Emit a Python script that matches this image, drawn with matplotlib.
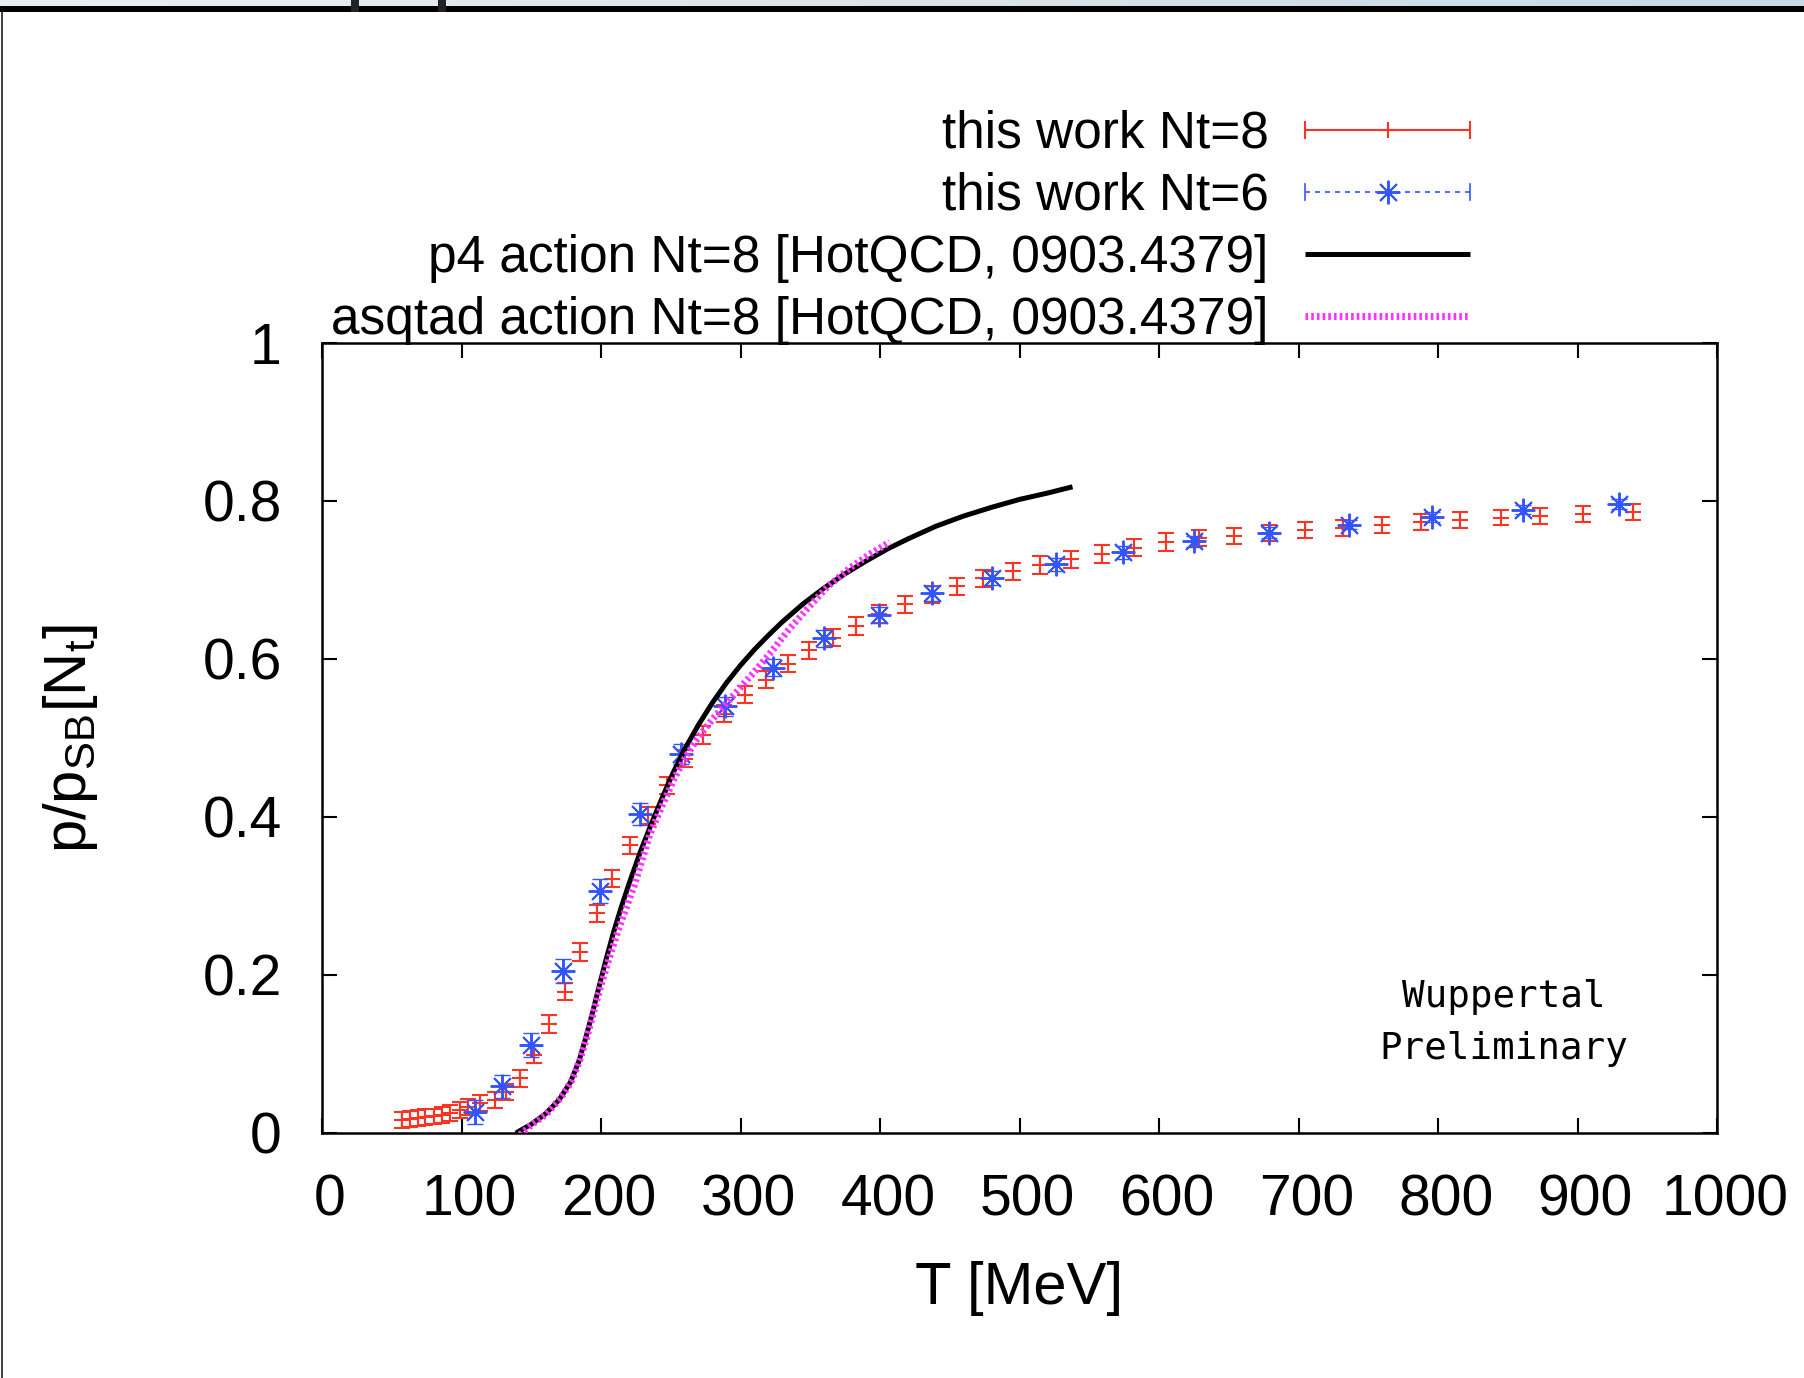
import matplotlib
matplotlib.use('Agg')
import matplotlib.pyplot as plt
import matplotlib.transforms as mtransforms
from matplotlib.lines import Line2D
from matplotlib.patches import Rectangle
from matplotlib.legend_handler import HandlerBase
from matplotlib.colors import LinearSegmentedColormap
import numpy as np

# ---------------- data ----------------
T_nt8 = [57, 63, 69, 74, 80, 86, 92, 99, 105, 113, 124, 132, 142, 152, 163, 174,
         185, 197, 208, 221, 234, 247, 260, 273, 288, 303, 318, 334, 349, 366,
         383, 399, 418, 437, 455, 474, 495, 515, 537, 559, 582, 605, 629, 654,
         679, 705, 732, 760, 788, 816, 845, 873, 904, 940]
p_nt8 = [0.016, 0.018, 0.019, 0.020, 0.021, 0.023, 0.025, 0.029, 0.033, 0.038,
         0.042, 0.052, 0.069, 0.099, 0.138, 0.179, 0.229, 0.278, 0.322, 0.364,
         0.402, 0.440, 0.474, 0.504, 0.531, 0.555, 0.574, 0.594, 0.611, 0.627,
         0.642, 0.657, 0.669, 0.682, 0.692, 0.702, 0.711, 0.719, 0.726, 0.733,
         0.741, 0.748, 0.753, 0.756, 0.760, 0.763, 0.766, 0.770, 0.773, 0.776,
         0.779, 0.781, 0.784, 0.786]
e_nt8 = [0.010] * 12 + [0.011] * 30 + [0.010] * 12

T_nt6 = [110, 129, 150, 173, 199, 228, 257, 289, 323, 360, 399, 437, 480, 526,
         574, 625, 679, 736, 796, 861, 930]
p_nt6 = [0.027, 0.059, 0.111, 0.205, 0.306, 0.404, 0.480, 0.540, 0.589, 0.626,
         0.656, 0.683, 0.703, 0.720, 0.735, 0.749, 0.760, 0.770, 0.780, 0.789,
         0.796]
e_nt6 = [0.015, 0.015, 0.015, 0.015, 0.015, 0.014, 0.013, 0.012, 0.011, 0.011,
         0.010, 0.010, 0.009, 0.008, 0.008, 0.007, 0.007, 0.006, 0.006, 0.006,
         0.006]

T_p4 = [139, 150, 160, 170, 178, 184, 189, 194, 199, 204, 209, 214, 220, 228,
        236, 244, 252, 260, 270, 280, 290, 300, 310, 320, 330, 345, 360, 375,
        390, 405, 420, 440, 460, 480, 500, 520, 538]
p_p4 = [0.000, 0.011, 0.024, 0.042, 0.064, 0.090, 0.120, 0.153, 0.188, 0.222,
        0.254, 0.283, 0.315, 0.355, 0.391, 0.425, 0.457, 0.486, 0.517, 0.545,
        0.570, 0.592, 0.612, 0.630, 0.647, 0.670, 0.690, 0.708, 0.724, 0.739,
        0.752, 0.768, 0.781, 0.792, 0.802, 0.810, 0.818]

T_asq = [142, 150, 161, 171, 179, 185, 190, 195, 200, 206, 212, 218, 224, 235,
         244, 252, 260, 269, 280, 290, 300, 312, 322, 335, 348, 362, 379, 393,
         407]
p_asq = [-0.002, 0.010, 0.024, 0.044, 0.066, 0.093, 0.122, 0.155, 0.187, 0.222,
         0.255, 0.285, 0.314, 0.378, 0.415, 0.447, 0.474, 0.499, 0.524, 0.544,
         0.564, 0.588, 0.609, 0.638, 0.664, 0.691, 0.716, 0.733, 0.748]

x_ticks = [0, 100, 200, 300, 400, 500, 600, 700, 800, 900, 1000]
y_ticks = [0, 0.2, 0.4, 0.6, 0.8, 1.0]
y_tick_labels = ['0', '0.2', '0.4', '0.6', '0.8', '1']

labels = ['this work Nt=8', 'this work Nt=6',
          'p4 action Nt=8 [HotQCD, 0903.4379]',
          'asqtad action Nt=8 [HotQCD, 0903.4379]']

RED = '#ff3322'
BLUE = '#3355ff'
MAGENTA = '#ff33ff'
ASTER = (8, 2, 0)

plt.rcParams['font.family'] = ['Liberation Sans', 'DejaVu Sans']
plt.rcParams['mathtext.fontset'] = 'custom'
plt.rcParams['mathtext.rm'] = 'Liberation Sans'

W, H = 1804, 1378
fig = plt.figure(figsize=(W / 100, H / 100), dpi=100)
fig.patch.set_facecolor('white')

# screenshot decorations
gax = fig.add_axes([0, 1 - 6 / H, 1, 6 / H])
grad = np.linspace(0, 1, 256)[None, :]
cm = LinearSegmentedColormap.from_list('g', ['#e9eef3', '#c9d9e4'])
gax.imshow(grad, aspect='auto', cmap=cm, extent=[0, 1, 0, 1])
gax.set_axis_off()
fig.add_artist(Rectangle((0, 1 - 12 / H), 1, 6 / H, transform=fig.transFigure,
                         facecolor='black', edgecolor='none'))
for xm in (351, 438):
    fig.add_artist(Rectangle((xm / W, 1 - 12 / H), 8 / W, 12 / H,
                             transform=fig.transFigure, facecolor='#222222',
                             edgecolor='none'))
fig.add_artist(Rectangle((1 / W, 0), 2 / W, 1 - 12 / H, transform=fig.transFigure,
                         facecolor='#444444', edgecolor='none'))

ax = fig.add_axes([322 / W, 1 - 1133 / H, 1395 / W, 790 / H])

eb8 = ax.errorbar(T_nt8, p_nt8, yerr=e_nt8, fmt='+', color=RED, ms=12, mew=1.5,
                  elinewidth=1.5, capsize=6, capthick=1.5, zorder=3)
eb6 = ax.errorbar(T_nt6, p_nt6, yerr=e_nt6, fmt='none', ecolor=BLUE,
                  elinewidth=1.0, capsize=6, capthick=1.0, zorder=4)
ax.plot(T_nt6, p_nt6, ls='none', marker=ASTER, ms=17, mew=1.4, color=BLUE,
        zorder=4)
lp4, = ax.plot(T_p4, p_p4, color='black', lw=3.6, zorder=5,
               solid_capstyle='butt', solid_joinstyle='round')
lasq, = ax.plot(T_asq, p_asq, color=MAGENTA, lw=5, zorder=6,
                dashes=(0.38, 0.44), dash_capstyle='butt')

ax.set_xlim(0, 1000)
ax.set_ylim(0, 1)
ax.set_xticks(x_ticks)
ax.set_xticklabels([str(v) for v in x_ticks])
ax.set_yticks(y_ticks)
ax.set_yticklabels(y_tick_labels)
ax.tick_params(direction='in', length=11, width=1.5, top=True, right=True,
               labelsize=41, pad=29)
for sp in ax.spines.values():
    sp.set_linewidth(1.8)
off = mtransforms.ScaledTranslation(8 / 100, 0, fig.dpi_scale_trans)
for lab in ax.get_xticklabels():
    lab.set_transform(lab.get_transform() + off)

ax.set_xlabel('T [MeV]', fontsize=43)
ax.xaxis.label.set_va('center')
ax.xaxis.set_label_coords(0.5, -0.197)
ax.set_ylabel(r'p/p$_\mathregular{SB}$[N$_\mathregular{t}$]', fontsize=43)
ax.yaxis.label.set_va('center')
ax.yaxis.set_label_coords(-0.18, 0.5)

ax.text(0.847, 0.1396, 'Wuppertal\nPreliminary', transform=ax.transAxes,
        ha='center', va='center', multialignment='center',
        family='DejaVu Sans Mono', fontsize=27, linespacing=1.57)


class GnuHandler(HandlerBase):
    def __init__(self, color, lw, ls=None, dashes=None, marker=None, ms=0,
                 mew=1.5, ticks=False, tick_lw=1.5):
        super().__init__()
        self.color, self.lw, self.ls, self.dashes = color, lw, ls, dashes
        self.marker, self.ms, self.mew = marker, ms, mew
        self.ticks, self.tick_lw = ticks, tick_lw

    def create_artists(self, legend, orig_handle, xdescent, ydescent, width,
                       height, fontsize, trans):
        x0, x1 = -xdescent, width - xdescent
        y = (height - ydescent) / 2
        arts = []
        kw = dict(color=self.color, lw=self.lw, transform=trans)
        if self.dashes is not None:
            ln = Line2D([x0, x1], [y, y], dashes=self.dashes,
                        dash_capstyle='butt', **kw)
        else:
            ln = Line2D([x0, x1], [y, y], ls=self.ls or '-',
                        solid_capstyle='butt', **kw)
        arts.append(ln)
        if self.ticks:
            for xx in (x0, x1):
                arts.append(Line2D([xx, xx], [y - 6, y + 6], color=self.color,
                                   lw=self.tick_lw, transform=trans))
        if self.marker is not None:
            arts.append(Line2D([(x0 + x1) / 2], [y], ls='none',
                               marker=self.marker, ms=self.ms, mew=self.mew,
                               color=self.color, transform=trans))
        return arts


hmap = {
    eb8: GnuHandler(RED, 1.5, marker='+', ms=12, ticks=True),
    eb6: GnuHandler(BLUE, 1.2, dashes=(3, 3), marker=ASTER, ms=17, mew=1.4,
                    ticks=True, tick_lw=1.2),
    lp4: GnuHandler('black', 3.6),
    lasq: GnuHandler(MAGENTA, 5, dashes=(0.38, 0.44)),
}
leg = ax.legend([eb8, eb6, lp4, lasq], labels, handler_map=hmap,
                loc='upper right', bbox_to_anchor=(1470 / W, 1 - 110 / H),
                bbox_transform=fig.transFigure, frameon=False, markerfirst=False,
                fontsize=37, handlelength=3.21, handletextpad=0.71,
                labelspacing=0.25, borderpad=0, borderaxespad=0)
for t in leg.get_texts():
    t.set_ha('right')

fig.savefig('out.png', dpi=100, facecolor='white')
